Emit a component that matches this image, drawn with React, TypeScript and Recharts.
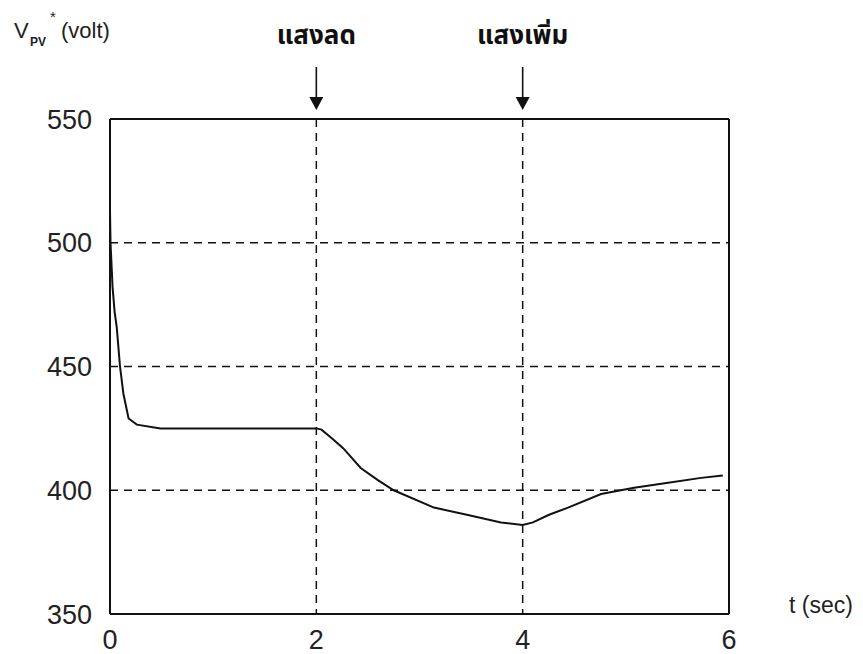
import {
  CartesianGrid,
  Line,
  LineChart,
  ReferenceLine,
  XAxis,
  YAxis,
} from "recharts";

const times = [
  0, 0.005, 0.025, 0.045, 0.065, 0.097, 0.13, 0.18, 0.26, 0.49, 1.0, 1.5, 2.0,
  2.05, 2.15, 2.26, 2.43, 2.6, 2.75, 3.14, 3.47, 3.79, 4.0, 4.1, 4.25, 4.44,
  4.76, 5.08, 5.41, 5.73, 5.94,
];
const vpv = [
  513, 500, 482, 472, 466, 450, 439, 429, 426.5, 425, 425, 425, 425, 424.5,
  421, 417, 409, 404, 400, 393, 390, 387, 386, 387, 390, 393, 398.5, 401, 403,
  405, 406,
];
const xTicks = [0, 2, 4, 6];
const yTicks = [350, 400, 450, 500, 550];
const events = [
  { t: 2, label: "แสงลด" },
  { t: 4, label: "แสงเพิ่ม" },
];

const data = times.map((t, i) => ({ t, v: vpv[i] }));

const AXIS_FONT = "Arial, 'Liberation Sans', sans-serif";
const THAI_FONT = "'Noto Sans Thai', 'Noto Sans', 'DejaVu Sans', sans-serif";

function EventLabel({ viewBox, text }: { viewBox?: any; text: string }) {
  if (!viewBox) return null;
  const x = viewBox.x;
  const top = viewBox.y;
  return (
    <g>
      <text
        x={x}
        y={top - 75}
        textAnchor="middle"
        fontFamily={THAI_FONT}
        fontWeight="bold"
        fontSize={26}
        fill="#111"
      >
        {text}
      </text>
      <line x1={x} x2={x} y1={top - 52} y2={top - 20} stroke="#111" strokeWidth={1.6} />
      <path d={`M${x - 7},${top - 22} L${x + 7},${top - 22} L${x},${top - 9} Z`} fill="#111" />
    </g>
  );
}

export default function App() {
  return (
    <div style={{ position: "absolute", left: 0, top: 0, width: 863, height: 654, background: "#fff" }}>
      <LineChart
        width={863}
        height={654}
        data={data}
        margin={{ top: 119, right: 134, left: 0, bottom: 0 }}
      >
        <CartesianGrid stroke="#111" strokeWidth={1.5} strokeDasharray="8 6" />
        <XAxis
          dataKey="t"
          type="number"
          domain={[0, 6]}
          ticks={xTicks}
          height={40}
          axisLine={{ stroke: "#111", strokeWidth: 2 }}
          tickLine={false}
          tickMargin={10}
          tick={{ fill: "#222", fontSize: 27, fontFamily: AXIS_FONT }}
        />
        <YAxis
          type="number"
          domain={[350, 550]}
          ticks={yTicks}
          width={110}
          axisLine={{ stroke: "#111", strokeWidth: 2 }}
          tickLine={false}
          tickMargin={12}
          tick={{ fill: "#222", fontSize: 27, fontFamily: AXIS_FONT }}
        />
        <ReferenceLine y={550} stroke="#111" strokeWidth={2} />
        <ReferenceLine x={6} stroke="#111" strokeWidth={2} />
        {events.map((e) => (
          <ReferenceLine
            key={e.t}
            x={e.t}
            stroke="none"
            label={<EventLabel text={e.label} />}
          />
        ))}
        <Line
          dataKey="v"
          type="linear"
          stroke="#111"
          strokeWidth={2}
          dot={false}
          isAnimationActive={false}
        />
        <text x={14} y={38} fontFamily={AXIS_FONT} fontSize={22} fill="#222">
          V
        </text>
        <text x={30} y={46} fontFamily={AXIS_FONT} fontSize={12} fontWeight="bold" fill="#222">
          PV
        </text>
        <text x={50} y={22} fontFamily={AXIS_FONT} fontSize={15} fill="#222">
          *
        </text>
        <text x={61} y={38} fontFamily={AXIS_FONT} fontSize={22} fill="#222">
          (volt)
        </text>
        <text x={789} y={613} fontFamily={AXIS_FONT} fontSize={23} fill="#222">
          t (sec)
        </text>
      </LineChart>
    </div>
  );
}
